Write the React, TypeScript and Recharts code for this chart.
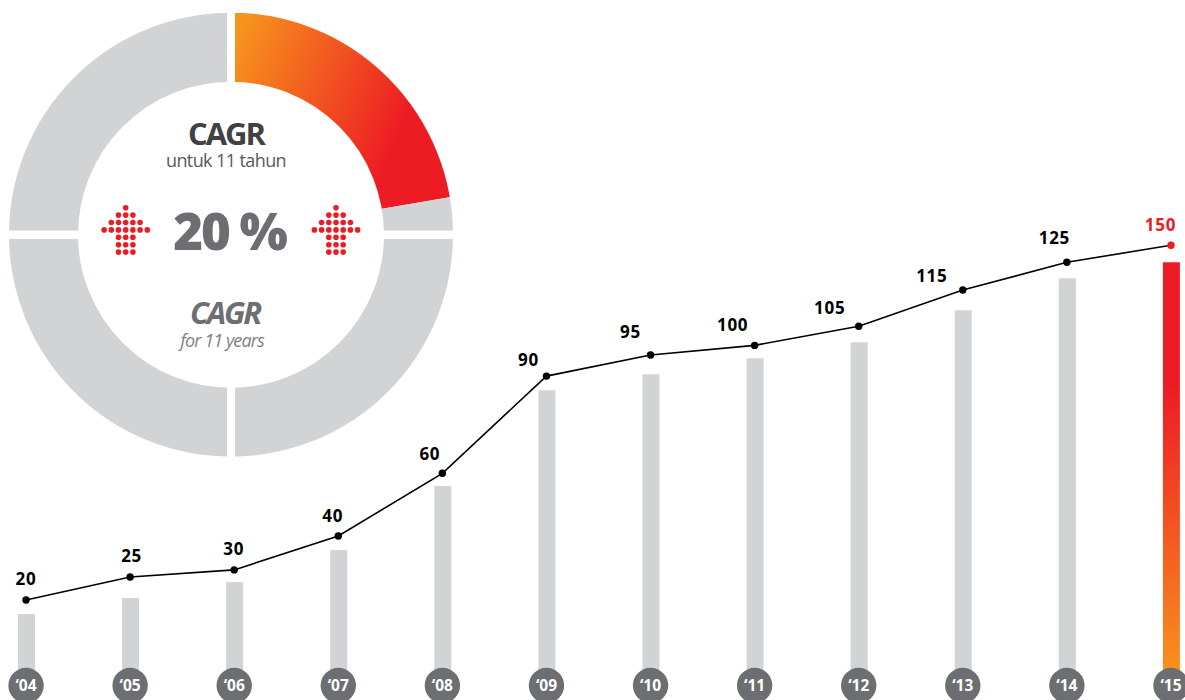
import {
  Bar,
  Cell,
  ComposedChart,
  LabelList,
  Line,
  Pie,
  PieChart,
  XAxis,
  YAxis,
} from 'recharts'

const years = ['04', '05', '06', '07', '08', '09', '10', '11', '12', '13', '14', '15']
const labels = [20, 25, 30, 40, 60, 90, 95, 100, 105, 115, 125, 150]
// the picture does not draw these to scale, so both are read off separately
const barValues = [20, 25, 30, 40, 60, 90, 95, 100, 105, 115, 125, 130]
const lineValues = [24.4, 31.6, 33.8, 44.4, 64, 94.4, 101, 104, 110, 121.3, 130, 135.3]

const ringValues = [80.3, 9.7, 90, 90, 90]
const ringColors = ['url(#ringGrad)', '#d1d3d4', '#d1d3d4', '#d1d3d4', '#d1d3d4']
const quarterValues = [90, 90, 90, 90]

// hand placed label nudges, the original labels are not centred on the points
const labelShift = [
  [0, -21], [1.5, -21], [-0.5, -21], [-5.5, -20], [-12.5, -19], [-18, -16],
  [-20, -23], [-22, -20], [-29, -18], [-31, -14], [-12.5, -24], [-10.5, -20],
]

const arrowRows = [1, 3, 5, 7, 3, 3, 3]

const tableData = years.map((y, i) => ({
  year: y,
  label: labels[i],
  bar: barValues[i],
  line: lineValues[i],
}))
const ringData = ringValues.map((v) => ({ value: v }))
const quarterData = quarterValues.map((v) => ({ value: v }))

const RED = '#ed1c24'
const ORANGE = '#f7941d'
const FONT = '"Open Sans", sans-serif'

const YearTick = ({ x, payload }: any) => (
  <g>
    <circle cx={x} cy={685.5} r={17.7} fill="#6d6e71" />
    <text
      x={x}
      y={691}
      textAnchor="middle"
      fill="#fff"
      fontFamily={FONT}
      fontWeight={700}
      fontSize={15.5}
    >
      {'\u2018' + payload.value}
    </text>
  </g>
)

const PointDot = ({ cx, cy, index }: any) => (
  <circle key={index} cx={cx} cy={cy} r={3.7} fill={index === years.length - 1 ? RED : '#000'} />
)

const renderLabel = ({ x, y, index, value }: any) => {
  const [dx, dy] = labelShift[index]
  return (
    <text
      key={index}
      x={x + dx}
      y={y + dy + 6}
      textAnchor="middle"
      fill={index === years.length - 1 ? RED : '#000'}
      fontFamily={FONT}
      fontWeight={700}
      fontSize={17}
      letterSpacing={0.7}
    >
      {value}
    </text>
  )
}

const Arrow = ({ cx }: { cx: number }) => (
  <g fill={RED}>
    {arrowRows.map((n, row) =>
      Array.from({ length: n }, (_, k) => (
        <circle
          key={row + '-' + k}
          cx={cx + (k - (n - 1) / 2) * 7.2}
          cy={207.7 + row * 7.4}
          r={2.8}
        />
      )),
    )}
  </g>
)

export default function App() {
  return (
    <div style={{ position: 'relative', width: 1185, height: 700, overflow: 'hidden', background: '#fff' }}>
      <style>{'body{margin:0}'}</style>
      <div style={{ position: 'absolute', left: -26.5, top: 0 }}>
        <ComposedChart
          width={1249}
          height={700}
          data={tableData}
          margin={{ top: 0, right: 0, bottom: 0, left: 0 }}
        >
          <defs>
            <linearGradient id="lastBar" x1="0" y1="0" x2="0" y2="1">
              <stop offset="0.3" stopColor={RED} />
              <stop offset="1" stopColor={ORANGE} />
            </linearGradient>
          </defs>
          <YAxis hide domain={[0, 212]} />
          <Bar dataKey="bar" barSize={17} isAnimationActive={false}>
            {tableData.map((d, i) => (
              <Cell key={d.year} fill={i === years.length - 1 ? 'url(#lastBar)' : '#d1d3d4'} />
            ))}
          </Bar>
          <Line
            dataKey="line"
            type="linear"
            stroke="#000"
            strokeWidth={1.6}
            dot={<PointDot />}
            activeDot={false}
            isAnimationActive={false}
          >
            <LabelList dataKey="label" content={renderLabel} />
          </Line>
          <XAxis
            dataKey="year"
            height={22}
            interval={0}
            axisLine={false}
            tickLine={false}
            tick={<YearTick />}
          />
        </ComposedChart>
      </div>
      <div style={{ position: 'absolute', left: 0, top: 0 }}>
        <PieChart width={462} height={470} margin={{ top: 0, right: 0, bottom: 0, left: 0 }}>
          <defs>
            <linearGradient id="ringGrad" x1="0" y1="0.2" x2="0.8" y2="0.5">
              <stop offset="0" stopColor={ORANGE} />
              <stop offset="1" stopColor={RED} />
            </linearGradient>
          </defs>
          <Pie
            data={ringData}
            dataKey="value"
            cx={231}
            cy={234.7}
            innerRadius={149}
            outerRadius={226}
            startAngle={90}
            endAngle={-270}
            stroke="none"
            isAnimationActive={false}
          >
            {ringData.map((_, i) => (
              <Cell key={i} fill={ringColors[i]} />
            ))}
          </Pie>
          {/* white stroke on top gives the parallel gaps between the quarters */}
          <Pie
            data={quarterData}
            dataKey="value"
            cx={231}
            cy={234.7}
            innerRadius={149}
            outerRadius={226}
            startAngle={90}
            endAngle={-270}
            fill="none"
            stroke="#fff"
            strokeWidth={8}
            isAnimationActive={false}
          />
          <text x={226} y={145} textAnchor="middle" fontFamily={FONT} fontWeight={700} fontSize={31} letterSpacing={-2} fill="#414042">
            CAGR
          </text>
          <text x={226} y={167} textAnchor="middle" fontFamily={FONT} fontSize={18} letterSpacing={-0.6} fill="#58595b">
            untuk 11 tahun
          </text>
          <text x={229.5} y={250} textAnchor="middle" fontFamily={FONT} fontWeight={800} fontSize={51} letterSpacing={-2.2} fill="#6d6e71">
            20 %
          </text>
          <text x={225} y={324} textAnchor="middle" fontFamily={FONT} fontWeight={700} fontStyle="italic" fontSize={31} letterSpacing={-2.2} fill="#6d6e71">
            CAGR
          </text>
          <text x={222} y={347} textAnchor="middle" fontFamily={FONT} fontStyle="italic" fontSize={18} letterSpacing={-0.9} fill="#808285">
            for 11 years
          </text>
          <Arrow cx={125.7} />
          <Arrow cx={336} />
        </PieChart>
      </div>
    </div>
  )
}
